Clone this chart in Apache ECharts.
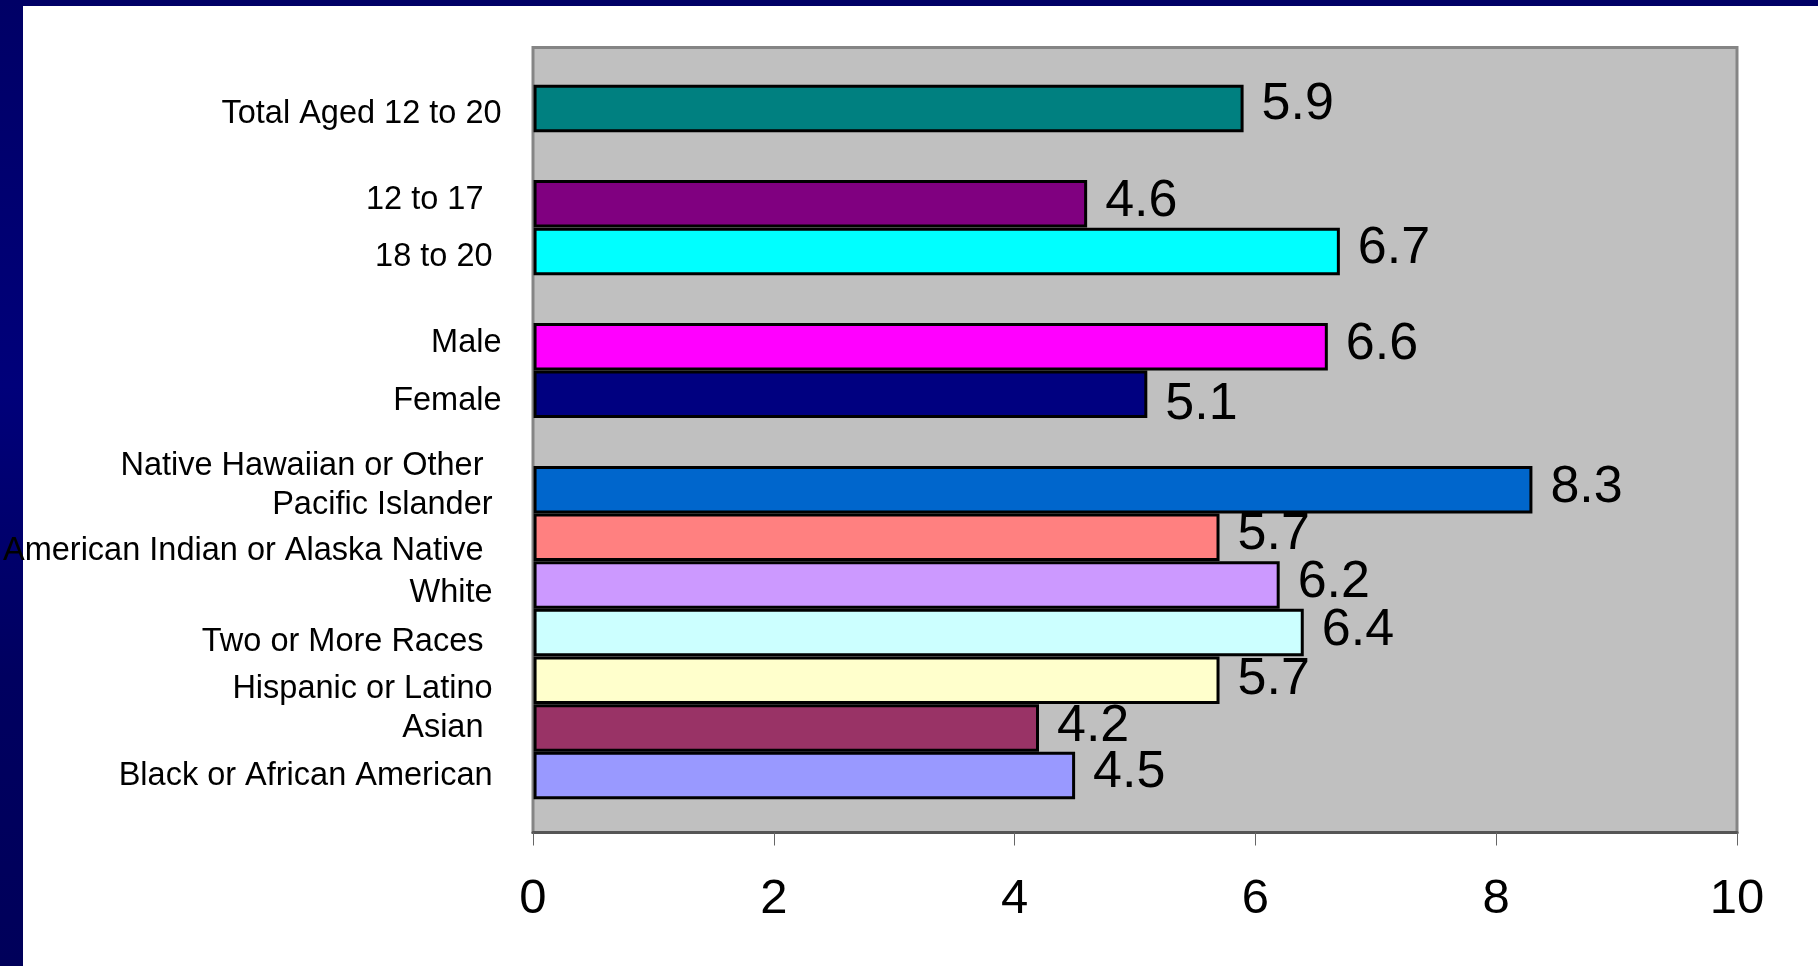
<!DOCTYPE html>
<html>
<head>
<meta charset="utf-8">
<script src="https://cdn.jsdelivr.net/npm/echarts@6/dist/echarts.min.js"></script>
<style>
html,body{margin:0;padding:0;width:1818px;height:966px;overflow:hidden;}
#bg{position:absolute;left:0;top:0;width:1818px;height:966px;background:linear-gradient(180deg,#000066 0%,#00007a 40%,#000060 70%,#00005a 100%);}
#panel{position:absolute;left:23px;top:6px;width:1795px;height:960px;background:#ffffff;}
#chart{position:absolute;left:0;top:0;width:1818px;height:966px;}
</style>
</head>
<body>
<div id="bg"></div>
<div id="panel"></div>
<div id="chart"></div>
<script>
// Categories top to bottom (blank entries are spacer rows)
const categories = [
  'Total Aged 12 to 20',
  '',
  '12 to 17  ',
  '18 to 20 ',
  '',
  'Male',
  'Female',
  '',
  'Native Hawaiian or Other  \nPacific Islander ',
  'American Indian or Alaska Native  ',
  'White ',
  'Two or More Races  ',
  'Hispanic or Latino ',
  'Asian  ',
  'Black or African American '
];
const values = [5.9, null, 4.6, 6.7, null, 6.6, 5.1, null, 8.3, 5.7, 6.2, 6.4, 5.7, 4.2, 4.5];
const barColors = ['#008080', null, '#800080', '#00FFFF', null, '#FF00FF', '#000080', null,
  '#0066CC', '#FF8080', '#CC99FF', '#CCFFFF', '#FFFFCC', '#993366', '#9999FF'];
const xTicks = [0, 2, 4, 6, 8, 10];
// vertical nudge (px) of each category label, positive = down
const labelNudge = [6, 0, -3.5, 6, 0, -3.5, 7, 0, -4, 14, 8, 9, 9, 0, 0];
// vertical nudge (px) of each value label, positive = down
const valueLabelNudge = [-2, 0, 0, -1, 0, 0, 12, 0, 0, -1, 0, 0, 1, 1, -1];
const LINE_GAP = 5.8; // extra spacing between lines of a wrapped category label

const FONT = "'Liberation Sans', Arial, sans-serif";
const chart = echarts.init(document.getElementById('chart'), null, {renderer: 'canvas'});

function tokenStyle(top, bottom) {
  return {padding: [top, 0, bottom, 0]};
}
const rich = {};
function labelFormatter(value, index) {
  if (!value) return '';
  const lines = value.split('\n');
  const d = labelNudge[index] || 0;
  const n = lines.length;
  return lines.map((s, k) => {
    let top = 0, bottom = 0;
    if (k === 0 && d > 0) top = 2 * d;
    if (k < n - 1) bottom += LINE_GAP;
    if (k === n - 1 && d < 0) bottom += -2 * d;
    const key = 't' + index + '_' + k;
    rich[key] = tokenStyle(top, bottom);
    return '{' + key + '|' + s + '}';
  }).join('\n');
}
// pre-build rich styles
categories.forEach((c, i) => labelFormatter(c, i));

chart.setOption({
  backgroundColor: 'transparent',
  animation: false,
  grid: [
    {left: 533, right: 81, top: 47.5, bottom: 133.5, show: true, backgroundColor: '#C0C0C0',
     borderColor: '#858585', borderWidth: 3},
    {left: 533, right: 81, top: 84.6, bottom: 166.6}
  ],
  xAxis: [
    {gridIndex: 0, type: 'value', min: xTicks[0], max: xTicks[xTicks.length - 1], interval: 2,
     splitLine: {show: false},
     axisLine: {show: true, lineStyle: {color: '#555555', width: 3}},
     axisTick: {show: true, length: 13, lineStyle: {color: '#666666', width: 1}},
     axisLabel: {color: '#000', fontSize: 49, fontFamily: FONT, margin: 42}},
    {gridIndex: 1, type: 'value', min: 0, max: 10, show: false}
  ],
  yAxis: [
    {gridIndex: 0, type: 'value', show: false},
    {gridIndex: 1, type: 'category', data: categories, inverse: true,
     axisLine: {show: false}, axisTick: {show: false}, splitLine: {show: false},
     axisLabel: {color: '#000', fontSize: 32.5, fontFamily: FONT, margin: 32,
                 interval: 0, formatter: labelFormatter, rich: rich}}
  ],
  series: [{
    type: 'bar',
    xAxisIndex: 1,
    yAxisIndex: 1,
    barWidth: 47.5,
    data: values.map((v, i) => ({
      value: v,
      itemStyle: {color: barColors[i] || 'transparent'},
      label: {offset: [0, -2 + valueLabelNudge[i]]}
    })),
    itemStyle: {borderColor: '#000', borderWidth: 3},
    label: {show: true, position: 'right', distance: 18, color: '#000',
            fontSize: 52, fontFamily: FONT,
            formatter: p => (p.value == null ? '' : p.value.toFixed(1))}
  }]
});
</script>
</body>
</html>
